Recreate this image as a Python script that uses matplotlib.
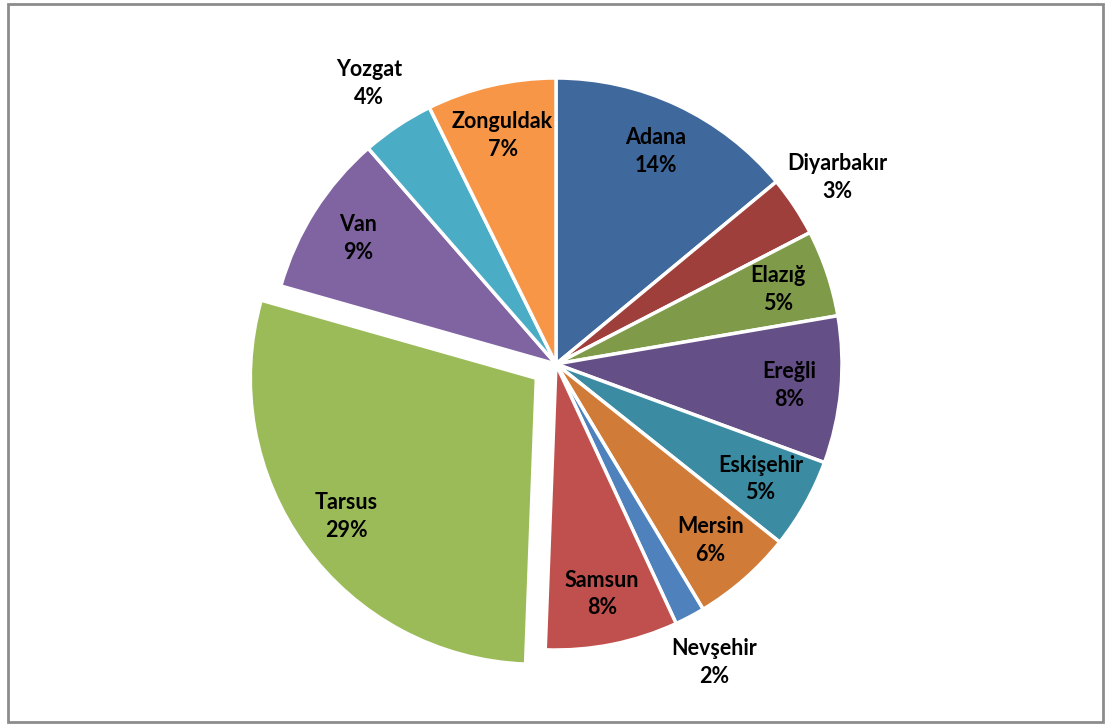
import numpy as np
import matplotlib.pyplot as plt
from matplotlib.patches import Rectangle

# share of each city (percent), clockwise from 12 o'clock
cities = ["Adana", "Diyarbakır", "Elazığ", "Ereğli", "Eskişehir", "Mersin",
          "Nevşehir", "Samsun", "Tarsus", "Van", "Yozgat", "Zonguldak"]
shares = [14.0, 3.4, 4.9, 8.3, 5.1, 5.7, 1.7, 7.5, 28.8, 9.2, 4.1, 7.3]
colors = ["#3F689C", "#9E3F3C", "#7F9B49", "#654F87", "#3B8CA3", "#D07B37",
          "#4F81BD", "#C0504D", "#9BBB59", "#8064A2", "#4BACC6", "#F79646"]
outside = ["Diyarbakır", "Nevşehir", "Yozgat"]
exploded = ["Tarsus"]

W, H = 1105, 724
fig = plt.figure(figsize=(W / 100, H / 100), dpi=100)
ax = fig.add_axes([0, 0, 1, 1])

R = 286
cx, cy = 556, H - 364
# explode offset is in data units (pixels here)
explode = [0.085 * R if c in exploded else 0 for c in cities]

wedges, _ = ax.pie(shares, colors=colors, startangle=90, counterclock=False,
                   radius=R, center=(cx, cy), explode=explode, frame=True,
                   wedgeprops=dict(edgecolor="white", linewidth=2.5))
ax.set_xlim(0, W)
ax.set_ylim(0, H)
ax.axis("off")

font = dict(family=["Lato", "DejaVu Sans"], fontweight="bold", fontsize=15.5,
            color="black", ha="center", va="center", linespacing=1.4)
total = sum(shares)
for w, name, val in zip(wedges, cities, shares):
    mid = np.deg2rad((w.theta1 + w.theta2) / 2)
    f = 1.18 if name in outside else 0.82
    x0, y0 = w.center
    ax.text(x0 + f * R * np.cos(mid), y0 + f * R * np.sin(mid),
            f"{name}\n{100 * val / total:.0f}%", **font)

# chart border
fig.patches.append(Rectangle((8 / W, 2 / H), (W - 10) / W, (H - 6) / H,
                             transform=fig.transFigure, fill=False,
                             edgecolor="#8C8C8C", linewidth=2))

fig.savefig("out.png", dpi=100)
